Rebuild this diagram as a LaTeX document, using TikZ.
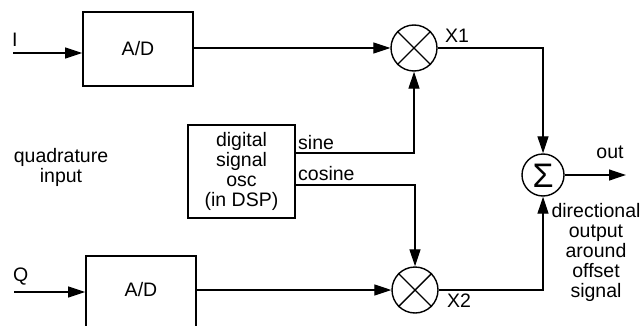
\documentclass[tikz,border=0pt]{standalone}
\usepackage{fontspec}
\setmainfont{Liberation Sans}
\usetikzlibrary{arrows.meta,calc}
\begin{document}
\begin{tikzpicture}[x=1pt,y=-1pt,
  font=\fontsize{19.5}{20}\selectfont,
  blockbox/.style={draw,line width=1.6pt,rectangle,inner sep=0pt},
  mixer/.style={draw,line width=1.4pt,circle,inner sep=0pt,minimum size=46pt},
  adder/.style={draw,line width=1.4pt,circle,inner sep=0pt,minimum size=42pt},
  lbl/.style={inner sep=0pt},
  arr/.style={line width=1.2pt,-{Triangle[length=17pt,width=11pt]}},
  plain/.style={line width=1.2pt}
]
\useasboundingbox[fill=white] (0,0) rectangle (644,326);
\clip (0,0) rectangle (644,326);
% blocks
\node[blockbox,minimum width=110pt,minimum height=74pt] (ad1) at (138,49) {A/D};
\node[blockbox,minimum width=110pt,minimum height=76pt] (ad2) at (141,294) {};
\node[lbl] (ad2t) at (141,290) {A/D};
\node[blockbox,minimum width=107pt,minimum height=93pt,align=center] (osc) at (241.5,171.5)
  {digital\\signal\\osc\\(in DSP)};
\node[mixer] (m1) at (414,48) {};
\node[mixer] (m2) at (415,290) {};
\draw[line width=1.4pt] (m1.north west) -- (m1.south east) (m1.north east) -- (m1.south west);
\draw[line width=1.4pt] (m2.north west) -- (m2.south east) (m2.north east) -- (m2.south west);
\node[adder] (sum) at (543,175) {};
\node[lbl,font=\fontsize{34}{34}\selectfont] (sig) at (543,176) {Σ};
% labels
\node[lbl,anchor=west] (il) at (12,40) {I};
\node[lbl,anchor=west] (ql) at (13,277) {Q};
\node[lbl,align=center] (qi) at (61,167) {quadrature\\input};
\node[lbl,anchor=west] (sl) at (298,143) {sine};
\node[lbl,anchor=west] (cl) at (298,174) {cosine};
\node[lbl] (x1) at (457,36) {X1};
\node[lbl] (x2) at (459,301) {X2};
\node[lbl] (ol) at (610,152) {out};
\node[lbl,align=center] (dl) at (596,252) {directional\\output\\around\\offset\\signal};
% connector end points
\coordinate (iin) at (13,53);
\coordinate (qin) at (14,292);
\coordinate (sy) at (0,153);
\coordinate (cy) at (0,185);
\coordinate (oend) at (626,175);
% connectors
\draw[arr] (iin) -- (iin -| ad1.west);
\draw[arr] (qin) -- (qin -| ad2.west);
\draw[arr] (ad1.east |- m1.west) -- (m1.west);
\draw[arr] (ad2.east |- m2.west) -- (m2.west);
\draw[arr] (osc.east |- sy) -| (m1.south);
\draw[arr] (osc.east |- cy) -| (m2.north);
\draw[arr] (m1.east) -| (sum.north);
\draw[arr] (m2.east) -| (sum.south);
\draw[arr] (sum.east) -- (oend);
\end{tikzpicture}
\end{document}
